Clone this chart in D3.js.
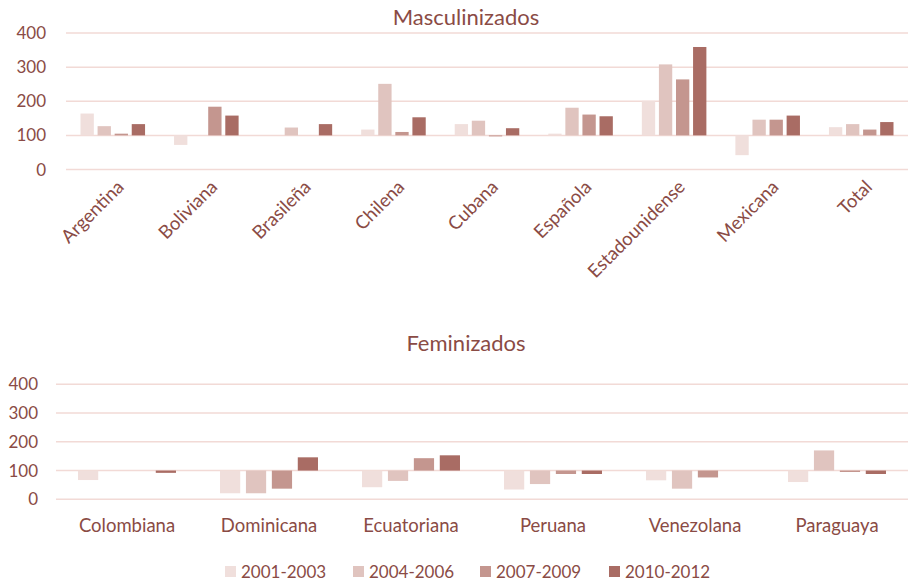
<!DOCTYPE html>
<html><head><meta charset="utf-8">
<script src="https://cdn.jsdelivr.net/npm/d3@7"></script>
<style>body{margin:0;background:#fff}text{font-family:Lato,"Open Sans",sans-serif;fill:#8a4b45}</style>
</head><body><svg id="c" width="911" height="583"></svg>
<script>
const series = ["2001-2003","2004-2006","2007-2009","2010-2012"];
const colors = ["#f0dfdc","#e0c4bf","#c4968f","#a96c64"];
const ticks = [0,100,200,300,400];
const mascCats = ["Argentina","Boliviana","Brasileña","Chilena","Cubana","Española","Estadounidense","Mexicana","Total"];
const masc2001 = [164,72,null,117,133,105,201,42,124];
const masc2004 = [127,null,123,251,143,181,308,146,133];
const masc2007 = [105,184,null,110,97,161,264,146,117];
const masc2010 = [133,158,133,153,121,156,359,158,139];
const femCats = ["Colombiana","Dominicana","Ecuatoriana","Peruana","Venezolana","Paraguaya"];
const fem2001 = [67,21,42,34,66,60];
const fem2004 = [null,21,64,53,37,170];
const fem2007 = [null,37,143,88,76,95];
const fem2010 = [92,146,153,88,null,88];

const svg = d3.select("#c");

function panel(opts){
  const {cats, vals, title, titleY, x0r, y0, y400, labelX, rotate, labelY} = opts;
  const g = svg.append("g");
  const y = d3.scaleLinear().domain([0,400]).range([y0,y400]);
  const x0 = d3.scaleBand().domain(cats).range(x0r).paddingInner(0.31).paddingOuter(0.155);
  const x1 = d3.scaleBand().domain(series).range([0,x0.bandwidth()]).paddingInner(0.22);
  g.selectAll("line.grid").data(ticks).join("line")
    .attr("x1",x0r[0]).attr("x2",x0r[1]).attr("y1",d=>y(d)).attr("y2",d=>y(d))
    .attr("stroke","#f2dad6").attr("stroke-width",1.5);
  g.selectAll("text.yt").data(ticks).join("text")
    .attr("x",labelX).attr("y",d=>y(d)).attr("dy","0.36em")
    .attr("text-anchor","end").style("font-size","17px").text(d=>d);
  cats.forEach((c,i)=>{
    series.forEach((s,j)=>{
      const v = vals[j][i];
      if(v==null) return;
      g.append("rect")
        .attr("x",x0(c)+x1(s)).attr("width",x1.bandwidth())
        .attr("y",y(Math.max(v,100))).attr("height",Math.abs(y(v)-y(100)))
        .attr("fill",colors[j]);
    });
  });
  if(rotate){
    g.selectAll("text.cat").data(cats).join("text")
      .attr("transform",d=>`translate(${x0(d)+x0.bandwidth()/2+3},${labelY}) rotate(-45)`)
      .attr("text-anchor","end").attr("dy","0.7em")
      .style("font-size","18.5px").text(d=>d);
  } else {
    g.selectAll("text.cat").data(cats).join("text")
      .attr("x",d=>x0(d)+x0.bandwidth()/2).attr("y",labelY)
      .attr("text-anchor","middle").style("font-size","18.5px").text(d=>d);
  }
  g.append("text").attr("x",466).attr("y",titleY).attr("text-anchor","middle")
    .style("font-size","22px").text(title);
}

panel({cats:mascCats, vals:[masc2001,masc2004,masc2007,masc2010], title:"Masculinizados", titleY:25,
  x0r:[66,908], y0:169.5, y400:33, labelX:46, rotate:true, labelY:179});
panel({cats:femCats, vals:[fem2001,fem2004,fem2007,fem2010], title:"Feminizados", titleY:351,
  x0r:[56,908], y0:499.3, y400:384.3, labelX:38, rotate:false, labelY:532});

const legX = [225,353,480,609];
const lg = svg.append("g");
series.forEach((s,i)=>{
  lg.append("rect").attr("x",legX[i]).attr("y",566).attr("width",11).attr("height",11).attr("fill",colors[i]);
  lg.append("text").attr("x",legX[i]+16).attr("y",572).attr("dy","0.36em").style("font-size","17px").text(s);
});
</script></body></html>
